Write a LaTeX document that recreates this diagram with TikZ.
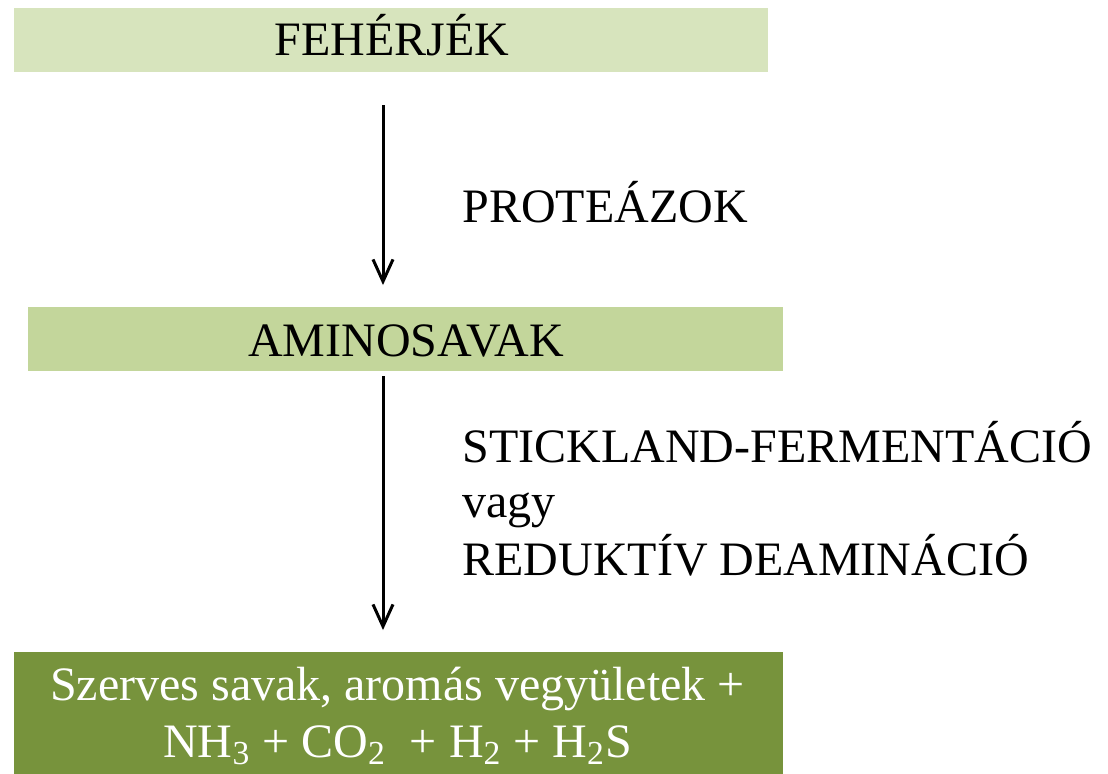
\documentclass[tikz,border=0pt]{standalone}
\usepackage{fontspec}
\setmainfont{Liberation Serif}
\usetikzlibrary{arrows.meta}

\definecolor{paleolive}{HTML}{D7E4BD}
\definecolor{lightolive}{HTML}{C3D69B}
\definecolor{darkolive}{HTML}{77933C}

\tikzset{
    box/.style={rectangle, inner sep=0pt, font=\fontsize{24}{28.5}\selectfont},
    flow/.style={line width=1.5pt, -{Straight Barb[length=11pt,width=10pt,line width=1.5pt]}},
    enzyme/.style={anchor=base west, inner sep=0pt, font=\fontsize{24}{28.5}\selectfont}
}

\begin{document}
\begin{tikzpicture}[x=0.5pt,y=-0.5pt]
    \useasboundingbox (0,0) rectangle (1108,773);

    % boxes
    \node[box, fill=paleolive, minimum width=377pt, minimum height=32pt] (feherjek) at (391,40) {};
    \node[box, fill=lightolive, minimum width=377.5pt, minimum height=32pt] (aminosavak) at (405.5,339) {};
    \node[box, fill=darkolive, minimum width=384.5pt, minimum height=62pt] (termekek) at (398.5,714) {};

    \node[box, anchor=base] (feherjek-t) at (392,55) {FEHÉRJÉK};
    \node[box, anchor=base] (aminosavak-t) at (406,356) {AMINOSAVAK};
    \node[box, anchor=base, text=white, align=center] (termekek-t) at (397.5,757)
        {Szerves savak, aromás vegyületek +\\ NH\textsubscript{3} + CO\textsubscript{2}~ + H\textsubscript{2} + H\textsubscript{2}S};

    % arrows
    \coordinate (a1) at (383,105);
    \coordinate (b1) at (383,285);
    \coordinate (a2) at (383,376);
    \coordinate (b2) at (383,630);
    \draw[flow] (a1) -- (b1);
    \draw[flow] (a2) -- (b2);

    \node[enzyme] (proteazok) at (462,222) {PROTEÁZOK};
    \node[enzyme] (stickland) at (462,462) {STICKLAND-FERMENTÁCIÓ};
    \node[enzyme] (vagy) at (462,517) {vagy};
    \node[enzyme] (reduktiv) at (462,575) {REDUKTÍV DEAMINÁCIÓ};
\end{tikzpicture}
\end{document}
